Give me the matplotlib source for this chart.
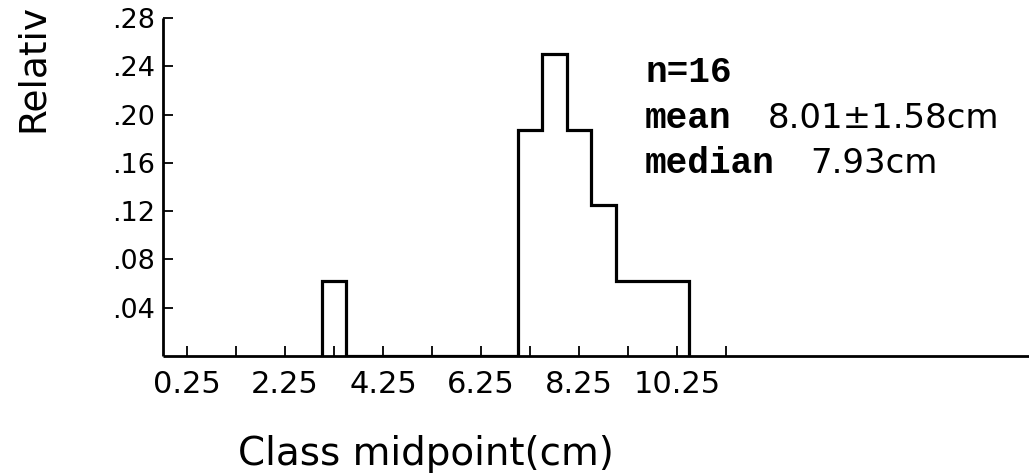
import matplotlib
matplotlib.use("Agg")
import matplotlib.pyplot as plt
import numpy as np

# histogram of class lengths (16 specimens, 0.5 cm bins)
bin_edges = [3.0, 3.5, 4.0, 4.5, 5.0, 5.5, 6.0, 6.5, 7.0, 7.5, 8.0, 8.5, 9.0, 9.5, 10.0, 10.5]
counts = [1, 0, 0, 0, 0, 0, 0, 0, 3, 4, 3, 2, 1, 1, 1]
n_total = 16

x_ticks = [0.25, 1.25, 2.25, 3.25, 4.25, 5.25, 6.25, 7.25, 8.25, 9.25, 10.25, 11.25]
x_ticklabels = ["0.25", "", "2.25", "", "4.25", "", "6.25", "", "8.25", "", "10.25", ""]
y_ticks = [0.04, 0.08, 0.12, 0.16, 0.20, 0.24, 0.28]
y_ticklabels = [".04", ".08", ".12", ".16", ".20", ".24", ".28"]

stat_words = ["n=16", "mean", "median"]
stat_values = ["", "8.01±1.58cm", "7.93cm"]

rel_freq = np.array(counts) / n_total

W, H = 1029, 473
fig = plt.figure(figsize=(W / 100, H / 100), dpi=100)
ax = fig.add_axes([163 / W, (H - 356) / H, (W - 163) / W, (356 - 18) / H])

ax.stairs(rel_freq, bin_edges, baseline=0, fill=False, color="black", linewidth=2.3)

ax.set_xlim(-0.24, 17.43)
ax.set_ylim(0, 0.28)
for s in ("top", "right"):
    ax.spines[s].set_visible(False)
for s in ("left", "bottom"):
    ax.spines[s].set_linewidth(2.0)
    ax.spines[s].set_capstyle("butt")

ax.set_xticks(x_ticks)
ax.set_xticklabels(x_ticklabels, fontsize=22, family="DejaVu Sans")
ax.set_yticks(y_ticks)
ax.set_yticklabels(y_ticklabels, fontsize=19.5, family="DejaVu Sans")
ax.tick_params(axis="x", direction="in", length=7.5, width=1.3, pad=10)
ax.tick_params(axis="y", direction="in", length=7.5, width=1.3, pad=5.5)

# stats block
word_x = 645 / W
value_x = [None, 768 / W, 810 / W]
baselines = [82, 128, 173]
for word, val, vx, by in zip(stat_words, stat_values, value_x, baselines):
    fig.text(word_x, 1 - by / H, word, fontsize=26, family="Liberation Mono",
             weight="bold", va="baseline", ha="left")
    if val:
        fig.text(vx, 1 - by / H, val, fontsize=24.5, family="DejaVu Sans",
                 va="baseline", ha="left")

fig.text(426 / W, 1 - 465 / H, "Class midpoint(cm)", fontsize=28,
         family="DejaVu Sans", ha="center", va="baseline")
# y label is cut off at the top edge in the original; show the visible part
fig.text(43 / W, 1 - 132 / H, "Relativ", fontsize=27,
         family="DejaVu Sans", rotation=90, rotation_mode="anchor",
         ha="left", va="baseline")

fig.savefig("out.png", dpi=100, facecolor="white")
